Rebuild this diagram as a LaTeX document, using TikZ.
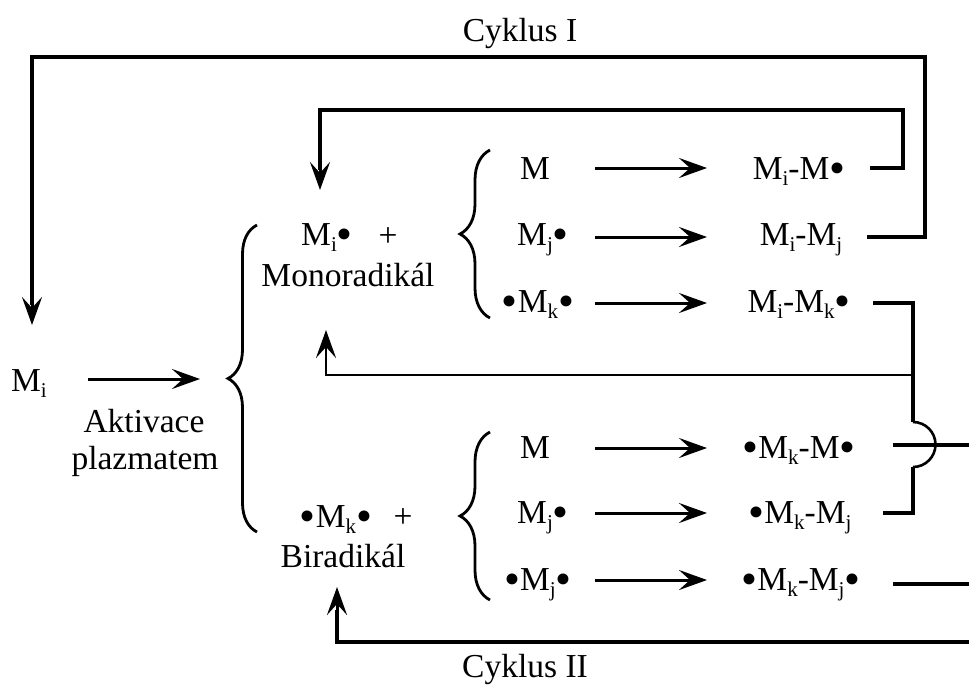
\documentclass[tikz,border=0pt]{standalone}
\usepackage{fontspec}
\usepackage{graphicx}
\setmainfont{Liberation Serif}
\usetikzlibrary{arrows.meta,decorations.pathreplacing}
\newcommand{\ssb}[1]{\raisebox{-0.2em}{\fontsize{21}{21}\selectfont #1}}
\newcommand{\bul}{\raisebox{-4.2pt}{\scalebox{1.36}{•}}}
\begin{document}
\begin{tikzpicture}[x=1pt,y=-1pt,
  txt/.style={font=\fontsize{33.5}{40}\selectfont, anchor=base, inner sep=0pt},
  tip/.style={-{Stealth[length=28pt,width=20pt,inset=11pt]}},
  rxn/.style={tip, line width=3pt},
  loop/.style={line width=3.8pt},
  thinloop/.style={line width=2.8pt},
  brc/.style={decorate, decoration={brace, amplitude=#1}, line width=2.8pt}]
\useasboundingbox (0,0) rectangle (969,689);

% titles
\node[txt] (cyc1) at (520,41) {Cyklus I};
\node[txt] (cyc2) at (525,677) {Cyklus II};

% left part
\node[txt] (mi) at (29,391) {M\ssb{i}};
\node[txt] (akt) at (144,432) {Aktivace};
\node[txt] (plz) at (145,469) {plazmatem};
\coordinate (aS) at (88,379);
\coordinate (aE) at (200,379);
\draw[rxn] (aS) -- (aE);
\draw[brc=29pt] (257,532) -- (257,225);

\node[txt] (mono1) at (327,245) {M\ssb{i}\bul};
\node[txt] (plus1) at (388,246) {+};
\node[txt] (mono) at (348,286) {Monoradikál};
\node[txt] (bi1) at (336,527) {\bul M\ssb{k}\bul};
\node[txt] (plus2) at (403,527) {+};
\node[txt] (bi) at (343,567) {Biradikál};

% upper group
\draw[brc=30pt] (490,318) -- (490,150);
\node[txt] (ul1) at (535,179) {M};
\node[txt] (ul2) at (543,245) {M\ssb{j}\bul};
\node[txt] (ul3) at (538,312) {\bul M\ssb{k}\bul};
\node[txt] (ur1) at (799,179) {M\ssb{i}-M\bul};
\node[txt] (ur2) at (801,245) {M\ssb{i}-M\ssb{j}};
\node[txt] (ur3) at (799,312) {M\ssb{i}-M\ssb{k}\bul};
\coordinate (u1s) at (595,168); \coordinate (u1e) at (707,168);
\coordinate (u2s) at (595,237); \coordinate (u2e) at (707,237);
\coordinate (u3s) at (595,303); \coordinate (u3e) at (707,303);
\draw[rxn] (u1s) -- (u1e);
\draw[rxn] (u2s) -- (u2e);
\draw[rxn] (u3s) -- (u3e);

% lower group
\draw[brc=30pt] (490,600) -- (490,432);
\node[txt] (ll1) at (535,458) {M};
\node[txt] (ll2) at (543,523) {M\ssb{j}\bul};
\node[txt] (ll3) at (538,590) {\bul M\ssb{j}\bul};
\node[txt] (lr1) at (799,458) {\bul M\ssb{k}-M\bul};
\node[txt] (lr2) at (800,523) {\bul M\ssb{k}-M\ssb{j}};
\node[txt] (lr3) at (801,590) {\bul M\ssb{k}-M\ssb{j}\bul};
\coordinate (l1s) at (595,448); \coordinate (l1e) at (707,448);
\coordinate (l2s) at (595,513); \coordinate (l2e) at (707,513);
\coordinate (l3s) at (595,580); \coordinate (l3e) at (707,580);
\draw[rxn] (l1s) -- (l1e);
\draw[rxn] (l2s) -- (l2e);
\draw[rxn] (l3s) -- (l3e);

% feedback loops
\coordinate (o1) at (867,237);
\coordinate (oT) at (32,325);
\draw[loop, line width=3.3pt] (o1) -- (925,237) -- (925,57) -- (32,57) -- (32,305);
\draw[tip, line width=3pt] (32,295) -- (oT);

\coordinate (i1) at (870,168);
\coordinate (iT) at (320,190);
\draw[loop] (i1) -- (903,168) -- (903,110) -- (320,110) -- (320,170);
\draw[tip, line width=3pt] (320,160) -- (iT);

\coordinate (m1) at (873,303);
\coordinate (mJ) at (913,375);
\coordinate (mT) at (326,330);
\coordinate (m2) at (883,513);
\draw[loop] (m1) -- (913,303) -- (mJ);
\draw[thinloop] (mJ) -- (326,375) -- (326,350);
\draw[tip, line width=2.8pt] (326,360) -- (mT);
\draw[loop] (mJ) -- (913,422);
\draw[line width=2.6pt] (913,422) arc[start angle=-90, end angle=90, radius=22.5];
\draw[loop] (913,467) -- (913,513) -- (m2);

\coordinate (r1) at (893,445); \coordinate (r1e) at (969,445);
\coordinate (r3) at (893,584); \coordinate (r3e) at (969,584);
\draw[loop] (r1) -- (r1e);
\draw[loop, line width=3.2pt] (r3) -- (r3e);

\coordinate (bR) at (969,642);
\coordinate (bT) at (337,587);
\draw[loop, line width=4.2pt] (bR) -- (337,642) -- (337,610);
\draw[tip, line width=3pt] (337,620) -- (bT);
\end{tikzpicture}
\end{document}
